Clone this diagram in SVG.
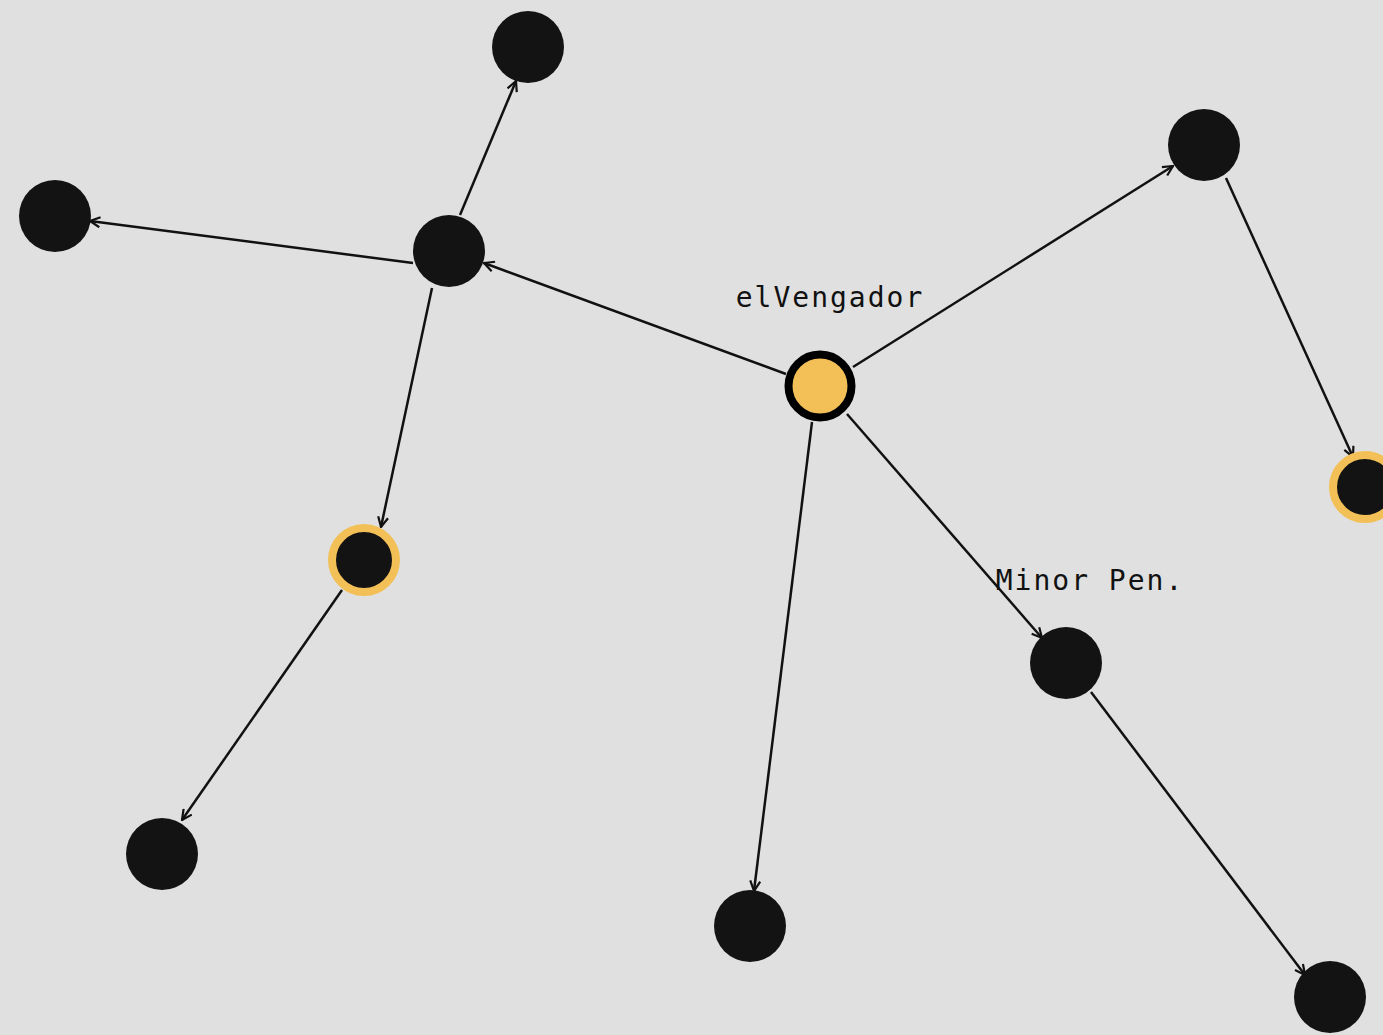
<svg xmlns="http://www.w3.org/2000/svg" width="1383" height="1035" viewBox="0 0 1383 1035">
<defs>
<style>
.edge{stroke:#111;stroke-width:2.5;fill:none;marker-end:url(#arr)}
.node{fill:#131313}
.ring{fill:#131313;stroke:#F2C057;stroke-width:8}
.lbl{font-family:"DejaVu Sans Mono","Liberation Mono",monospace;font-size:28px;fill:#111;text-anchor:middle;letter-spacing:2px}
</style>
<marker id="arr" viewBox="0 0 12 12" refX="11" refY="6" markerWidth="12" markerHeight="12" markerUnits="userSpaceOnUse" orient="auto">
<path d="M1,1 L11,6 L1,11" fill="none" stroke="#111" stroke-width="2.2"/>
</marker>
</defs>
<rect width="1383" height="1035" fill="#E0E0E0"/>
<g id="connectors">
<line class="edge" x1="786" y1="374" x2="484" y2="263"/>
<line class="edge" x1="460" y1="215" x2="516" y2="81"/>
<line class="edge" x1="413" y1="263" x2="90" y2="221"/>
<line class="edge" x1="432" y1="288" x2="381" y2="527"/>
<line class="edge" x1="342" y1="590" x2="182" y2="820"/>
<line class="edge" x1="853" y1="367" x2="1173" y2="166"/>
<line class="edge" x1="1226" y1="178" x2="1353" y2="457"/>
<line class="edge" x1="812" y1="422" x2="754" y2="891"/>
<line class="edge" x1="847" y1="414" x2="1042" y2="638"/>
<line class="edge" x1="1091" y1="692" x2="1305" y2="975"/>
</g>
<g id="center">
<circle cx="820" cy="386" r="31.5" fill="#F2C057" stroke="#000" stroke-width="8"/>
<text class="lbl" x="830" y="307">elVengador</text>
</g>
<g id="n1"><circle class="node" cx="528" cy="47" r="36"/></g>
<g id="n2"><circle class="node" cx="55" cy="216" r="36"/></g>
<g id="n3"><circle class="node" cx="449" cy="251" r="36"/></g>
<g id="n4"><circle class="node" cx="1204" cy="145" r="36"/></g>
<g id="n5"><circle class="ring" cx="364" cy="560" r="32"/></g>
<g id="n6"><circle class="ring" cx="1365" cy="487" r="32"/></g>
<g id="n7"><circle class="node" cx="162" cy="854" r="36"/></g>
<g id="n8"><circle class="node" cx="750" cy="926" r="36"/></g>
<g id="n9"><circle class="node" cx="1066" cy="663" r="36"/><text class="lbl" x="1090" y="590">Minor Pen.</text></g>
<g id="n10"><circle class="node" cx="1330" cy="997" r="36"/></g>
</svg>
